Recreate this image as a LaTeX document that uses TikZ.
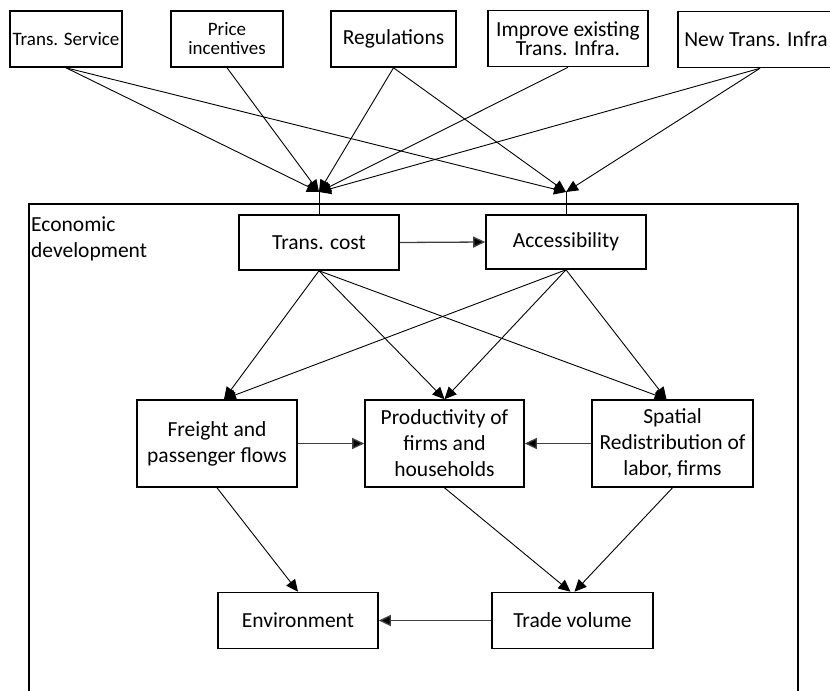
\documentclass[tikz,border=0pt]{standalone}
\usepackage{fontspec}
\setmainfont{Carlito}
\usetikzlibrary{arrows.meta}
\newcommand\fbig{\fontsize{21.5bp}{26bp}\selectfont}
\newcommand\fbigtight{\fontsize{21.5bp}{19.5bp}\selectfont}
\newcommand\fsmall{\fontsize{19bp}{19bp}\selectfont}
\begin{document}
\begin{tikzpicture}[x=1bp,y=-1bp,
  box/.style={draw, line width=1.6bp, align=center, inner sep=0pt, font=\fbig},
  topbox/.style={box, minimum height=56bp},
  midbox/.style={box, minimum width=160bp, minimum height=87bp},
  lowbox/.style={box, minimum width=160bp, minimum height=56bp},
  conn/.style={line width=0.9bp, -{Triangle[length=12bp,width=11bp]}},
  hconn/.style={line width=1.3bp, black!75, -{Triangle[length=12bp,width=11bp,fill=black]}},
  feed/.style={line width=0.9bp},
  frame/.style={line width=1.6bp}]
\useasboundingbox (0,0) rectangle (830,691);
\clip (0,0) rectangle (830,691);

% policy instruments
\node[topbox, minimum width=112bp, font=\fsmall] (ts) at (66,39) {Trans. Service};
\node[topbox, minimum width=112bp, font=\fsmall] (pi) at (227,39) {Price\\incentives};
\node[topbox, minimum width=125bp] (rg) at (393.5,39) {Regulations};
\node[topbox, minimum width=160bp, font=\fbigtight] (im) at (568,38.5) {Improve existing\\Trans. Infra.};
\node[topbox, minimum width=156bp] (nw) at (756,39.5) {New Trans. Infra};

% economic development frame
\draw[frame] (29,204) rectangle (798,720);
\node[align=left, anchor=west, inner sep=0pt, font=\fbig] (ed) at (31,239) {Economic\\development};

% inner boxes
\node[box, minimum width=160bp, minimum height=55bp] (tc) at (319,242.5) {Trans. cost};
\node[box, minimum width=160bp, minimum height=54bp] (ac) at (566,242) {Accessibility};
\node[midbox] (fr) at (217,443.5) {Freight and\\passenger flows};
\node[midbox, minimum width=159bp] (pr) at (444.5,443.5) {Productivity of\\firms and\\households};
\node[midbox, minimum width=161bp] (sp) at (672.5,443.5) {Spatial\\Redistribution of\\labor, firms};
\node[lowbox] (en) at (298,620.5) {Environment};
\node[lowbox, minimum width=161bp] (tv) at (572.5,620.5) {Trade volume};

% merge points above the two target boxes
\coordinate (tcin) at (319,192);
\coordinate (acin) at (566,192);

% instruments -> transport cost / accessibility
\draw[conn] (ts.south) -- (tcin);
\draw[conn] (ts.south) -- (acin);
\draw[conn] (pi.south) -- (tcin);
\draw[conn] (rg.south) -- (tcin);
\draw[conn] (rg.south) -- (acin);
\draw[conn] (im.south) -- (tcin);
\draw[conn] ([xshift=4bp]nw.south) -- (tcin);
\draw[conn] ([xshift=4bp]nw.south) -- (acin);
\draw[feed] (tcin) -- (tc.north);
\draw[feed] (acin) -- (ac.north);

% inner relations
\draw[hconn] (tc.east) -- (ac.west);
\draw[conn] (tc.south) -- ([xshift=7bp]fr.north);
\draw[conn] (tc.south) -- (pr.north);
\draw[conn] (tc.south) -- ([xshift=-6bp]sp.north);
\draw[conn] (ac.south) -- ([xshift=7bp]fr.north);
\draw[conn] (ac.south) -- (pr.north);
\draw[conn] (ac.south) -- ([xshift=-6bp]sp.north);
\draw[hconn] (fr.east) -- (pr.west);
\draw[hconn] (sp.west) -- (pr.east);
\draw[conn] (fr.south) -- (en.north);
\draw[conn] (pr.south) -- ([xshift=-2bp]tv.north);
\draw[conn] (sp.south) -- ([xshift=2bp]tv.north);
\draw[hconn] (tv.west) -- (en.east);
\end{tikzpicture}
\end{document}
